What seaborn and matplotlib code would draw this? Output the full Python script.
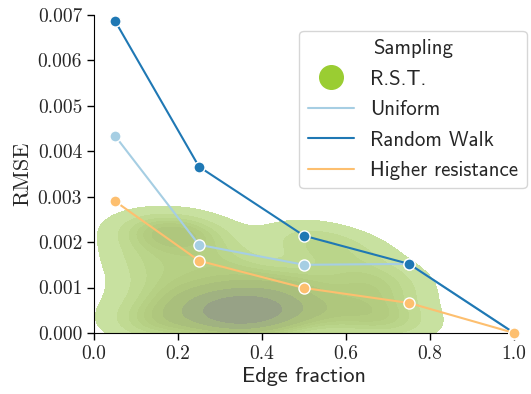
import numpy as np
import pandas as pd
import seaborn as sns
import matplotlib.pyplot as plt
from matplotlib.colors import to_rgba, ListedColormap
from seaborn.external import husl

# line series
edge = [0.05, 0.25, 0.5, 0.75, 1.0]
uniform = [0.00434, 0.00194, 0.00150, 0.00152, 0.0]
random_walk = [0.00687, 0.00366, 0.00214, 0.00152, 0.0]
higher_res = [0.00290, 0.00159, 0.00099, 0.00066, 0.0]

# R.S.T. samples
rst_edge = [0.13, 0.18, 0.24, 0.14, 0.13, 0.14, 0.17, 0.20, 0.22, 0.25,
            0.27, 0.28, 0.30, 0.31, 0.32, 0.34, 0.35, 0.36, 0.38, 0.39,
            0.40, 0.42, 0.45, 0.47, 0.48, 0.50, 0.52, 0.55, 0.58, 0.60,
            0.62, 0.65, 0.68, 0.70, 0.70, 0.36, 0.44, 0.30, 0.33, 0.13,
            0.16, 0.22, 0.12, 0.71, 0.68, 0.53]
rst_rmse = [0.0021, 0.0022, 0.0021, 0.0014, 0.0004, 0.0009, 0.0002, 0.0006, 0.0011, 0.0003,
            0.0007, 0.0015, 0.0002, 0.0005, 0.0009, 0.0001, 0.0004, 0.0006, 0.0004, 0.0008,
            0.0003, 0.0005, 0.0007, 0.0004, 0.0011, 0.0021, 0.0006, 0.0015, 0.0003, 0.0009,
            0.0018, 0.0005, 0.0013, 0.0002, 0.0008, 0.0012, 0.0011, 0.0017, 0.0004, 0.0017,
            0.0023, 0.0023, 0.0001, 0.0003, 0.0011, 0.0020]

lines = pd.DataFrame({
    'Edge fraction': edge * 3,
    'RMSE': uniform + random_walk + higher_res,
    'Sampling': ['Uniform'] * 5 + ['Random Walk'] * 5 + ['Higher resistance'] * 5,
})
rst = pd.DataFrame({'Edge fraction': rst_edge, 'RMSE': rst_rmse})

# seaborn's single-colour density ramp, flattened onto white (alpha 0.6)
r, g, b, _ = to_rgba('yellowgreen')
h, s, _ = husl.rgb_to_husl(r, g, b)
xx = np.linspace(-1, 1, int(1.15 * 256))[:256]
ramp = [husl.husl_to_rgb(h, s * np.cos(v), l) for v, l in zip(xx, np.linspace(35, 80, 256))]
ramp = np.clip(np.array(ramp), 0, 1)[::-1]
ramp = 0.6 * ramp + 0.4
kde_cmap = ListedColormap(ramp)

sns.set_style('ticks')
plt.rcParams['font.family'] = ['cmr10']
plt.rcParams['axes.unicode_minus'] = False

fig = plt.figure(figsize=(5.31, 3.94), dpi=100)
ax = fig.add_axes([0.177, 0.155, 0.791, 0.807])

sns.kdeplot(data=rst, x='Edge fraction', y='RMSE', fill=True, cmap=kde_cmap,
            bw_adjust=0.85, ax=ax)
pal = {'Uniform': '#a6cee3', 'Random Walk': '#1f78b4', 'Higher resistance': '#fdbf6f'}
sns.lineplot(data=lines, x='Edge fraction', y='RMSE', hue='Sampling', palette=pal,
             marker='o', markersize=8, markeredgecolor='white', markeredgewidth=1,
             ax=ax, legend=False, clip_on=False, zorder=3)

ax.set_xlim(0, 1.0)
ax.set_ylim(0, 0.007)
ax.set_xticks([0.0, 0.2, 0.4, 0.6, 0.8, 1.0])
ax.set_yticks([0.0, 0.001, 0.002, 0.003, 0.004, 0.005, 0.006, 0.007])
ax.set_yticklabels([f'{v:.3f}' for v in ax.get_yticks()])
ax.set_xticklabels([f'{v:.1f}' for v in ax.get_xticks()])
ax.tick_params(labelsize=14, length=5, width=1, color='black')
for s_ in ['left', 'bottom']:
    ax.spines[s_].set_color('black')
sns.despine(ax=ax)
ax.set_xlabel('Edge fraction', fontsize=16, family='cmss10', labelpad=3)
ax.set_ylabel('RMSE', fontsize=16)

handles = [plt.Line2D([], [], ls='', marker='o', markersize=17, color='yellowgreen')]
labels = ['R.S.T.']
for k in ['Uniform', 'Random Walk', 'Higher resistance']:
    handles.append(plt.Line2D([], [], color=pal[k], lw=1.5))
    labels.append(k)
leg = ax.legend(handles, labels, title='Sampling', loc='upper right',
                bbox_to_anchor=(1.03, 0.95), borderaxespad=0,
                prop={'family': 'cmss10', 'size': 15},
                handlelength=2.2, handletextpad=0.8, borderpad=0.4, labelspacing=0.55)
leg.get_title().set_fontfamily('cmss10')
leg.get_title().set_fontsize(15)

fig.savefig('out.png', dpi=100)
